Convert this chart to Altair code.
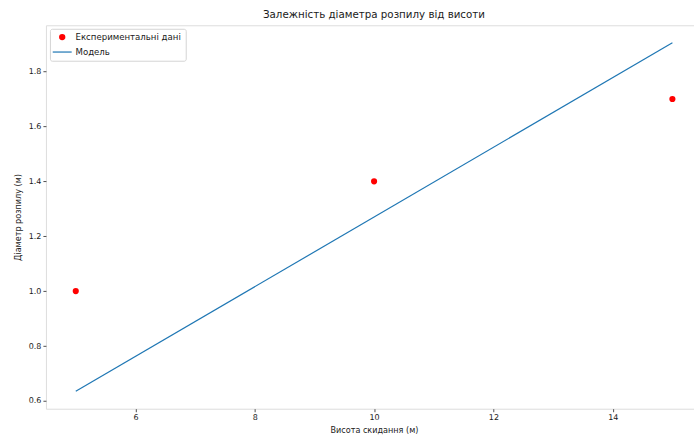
import altair as alt
import pandas as pd

# ---- data ----
heights = [5, 10, 15]
diameters = [1.0, 1.4, 1.7]
model_heights = [5, 15]
model_diameters = [0.635, 1.905]
series_names = ["Експериментальні дані", "Модель"]
x_ticks = [6, 8, 10, 12, 14]
y_ticks = [0.6, 0.8, 1.0, 1.2, 1.4, 1.6, 1.8]

exp_df = pd.DataFrame({"h": heights, "d": diameters, "series": series_names[0]})
mod_df = pd.DataFrame({"h": model_heights, "d": model_diameters, "series": series_names[1]})

FONT = "DejaVu Sans"
TXT = "#1a1a1a"
RED = "#ff0000"
BLUE = "#1f77b4"

W, H = 649, 384
xscale = alt.Scale(domain=[4.5, 15.362], nice=False, zero=False)
yscale = alt.Scale(domain=[0.5715, 1.9685], nice=False, zero=False)

xaxis = alt.Axis(
    values=x_ticks, format="d", grid=False, domain=False,
    title="Висота скидання (м)", titleFont=FONT, titleFontSize=8.1,
    titleFontWeight="normal", titleColor=TXT,
    titleBaseline="alphabetic", titleY=24, titleX=328.5, titleAlign="center",
    labelFont=FONT, labelFontSize=8, labelColor=TXT, labelPadding=2,
    tickSize=3, tickColor="#222", tickWidth=0.8,
)
yaxis = alt.Axis(
    values=y_ticks, format=".1f", grid=False, domain=False,
    title="Діаметр розпилу (м)", titleFont=FONT, titleFontSize=8.1,
    titleFontWeight="normal", titleColor=TXT,
    titleAngle=-90, titleBaseline="middle", titleAlign="center",
    titleX=-27.5, titleY=H / 2,
    labelFont=FONT, labelFontSize=8, labelColor=TXT, labelPadding=2,
    tickSize=3, tickColor="#222", tickWidth=0.8,
)

legend_opts = dict(
    title=None, orient="none", legendX=4, legendY=3.5,
    strokeColor="#d4d4d4", fillColor="white", cornerRadius=2,
    padding=4, labelFont=FONT, labelFontSize=8.6, labelColor=TXT,
    symbolSize=40, rowPadding=6, labelOffset=9, symbolOffset=4,
)

points = alt.Chart(exp_df).mark_point(filled=True, size=38, opacity=1).encode(
    x=alt.X("h:Q", scale=xscale, axis=xaxis),
    y=alt.Y("d:Q", scale=yscale, axis=yaxis),
    color=alt.Color(
        "series:N",
        scale=alt.Scale(domain=series_names, range=[RED, BLUE]),
        legend=alt.Legend(**legend_opts),
    ),
    shape=alt.Shape(
        "series:N",
        scale=alt.Scale(domain=series_names, range=["circle", "M-3,-0.19H3V0.19H-3Z"]),
        legend=alt.Legend(**legend_opts),
    ),
)

line = alt.Chart(mod_df).mark_line(strokeWidth=1.2, color=BLUE).encode(
    x=alt.X("h:Q", scale=xscale),
    y=alt.Y("d:Q", scale=yscale),
)

chart = (
    alt.layer(points, line)
    .properties(
        width=W,
        height=H,
        autosize=alt.AutoSizeParams(type="none"),
        padding={"left": 46, "top": 25, "right": 0, "bottom": 27},
        title=alt.TitleParams(
            "Залежність діаметра розпилу від висоти",
            font=FONT, fontSize=10.3, fontWeight="normal", color=TXT,
            anchor="middle", frame="group", dx=4, dy=9, offset=6, baseline="alphabetic",
        ),
    )
    .configure_view(stroke="#222", strokeWidth=0.8)
    .configure(background="white")
)

chart.save("out.html", embed_options={"renderer": "svg", "actions": False})
